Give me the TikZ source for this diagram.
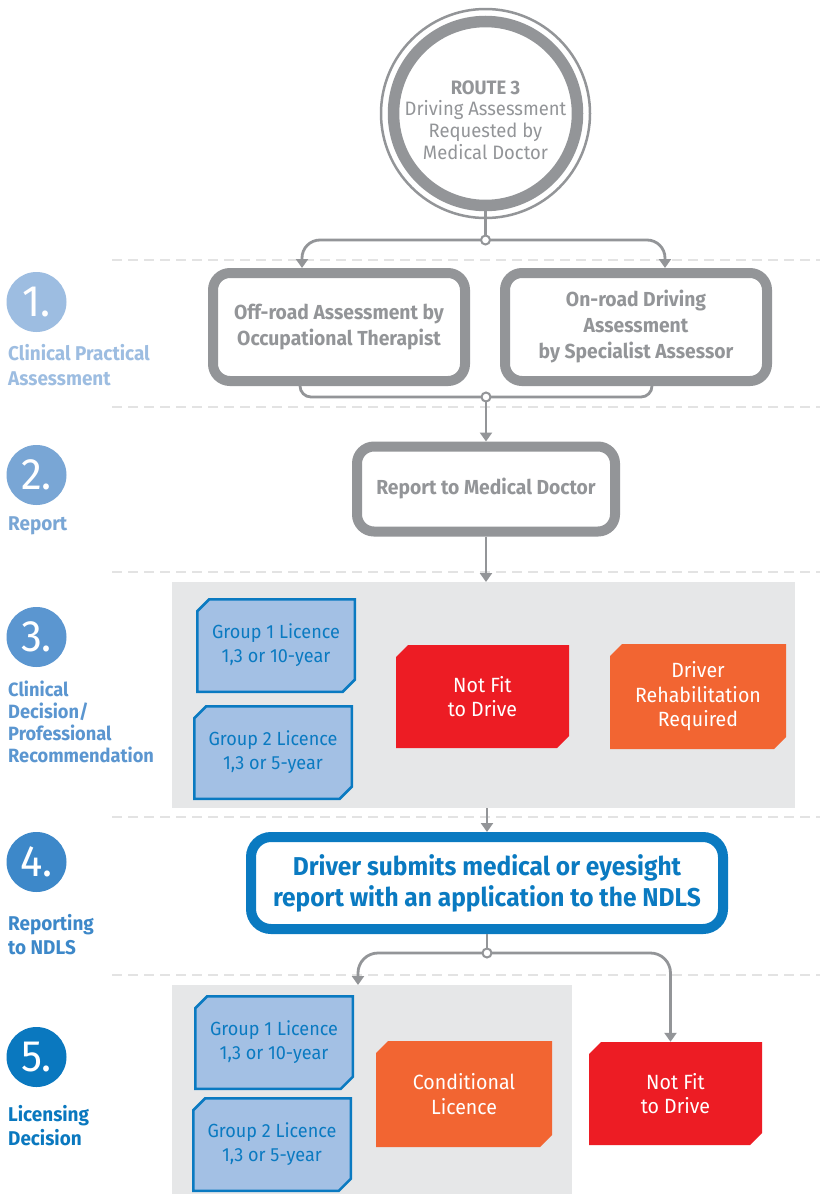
\documentclass[tikz,border=0pt]{standalone}
\usepackage{fontspec}
\setmainfont{Fira Sans}
\newfontfamily\cond{Fira Sans}[FakeStretch=0.95]
\usetikzlibrary{arrows.meta,shapes.misc,calc}
\definecolor{gr}{HTML}{939598}
\definecolor{pan}{HTML}{E6E7E8}
\definecolor{lb}{HTML}{A3C0E4}
\definecolor{bl}{HTML}{0A7AC1}
\definecolor{rd}{HTML}{ED1C24}
\definecolor{og}{HTML}{F26532}
\definecolor{dl}{HTML}{E3E3E3}
\definecolor{cA}{HTML}{9DBDE1}
\definecolor{cB}{HTML}{79A6D5}
\definecolor{cC}{HTML}{5B96D0}
\definecolor{cD}{HTML}{3D88C9}
\definecolor{cE}{HTML}{0A78BF}
\tikzset{
  graybox/.style={draw=gr, line width=10pt, rounded corners=17pt, fill=white, align=center, text=gr,
    font={\cond\bfseries\fontsize{20.3}{26}\selectfont}, inner sep=0pt},
  cutbox/.style={chamfered rectangle, chamfered rectangle corners={north west,south east},
    chamfered rectangle sep=6pt, inner sep=0pt, align=center},
  bluebox/.style={cutbox, draw=bl, line width=2.5pt, fill=lb, text=bl,
    minimum width=157.5pt, minimum height=92.5pt, font={\cond\fontsize{19}{24}\selectfont}},
  redbox/.style={cutbox, fill=rd, text=white, font={\cond\fontsize{20.6}{24.5}\selectfont}},
  orbox/.style={cutbox, fill=og, text=white, font={\cond\fontsize{20.6}{24.5}\selectfont}},
  panel/.style={fill=pan, inner sep=0pt, outer sep=0pt},
  stepnum/.style={circle, inner sep=0pt, minimum size=60pt, text=white, font={\cond\fontsize{44}{44}\selectfont}},
  steplabel/.style={anchor=west, align=left, inner sep=0pt, font={\cond\bfseries\fontsize{19.9}{23}\selectfont}},
  ln/.style={draw=gr, line width=2.8pt},
  arr/.style={ln, -{Triangle[width=12pt,length=9pt]}},
  junc/.style={circle, draw=gr, line width=2pt, fill=white, inner sep=0pt, minimum size=9pt},
  dashline/.style={draw=dl, line width=2pt, dash pattern=on 10pt off 6pt}
}
\begin{document}
\begin{tikzpicture}[x=1pt,y=-1pt]
\useasboundingbox (0,0) rectangle (820,1194);
\fill[white] (0,0) rectangle (820,1194);
% dashed separators
\foreach \yy in {260,407,572,817,975} \draw[dashline] (112,\yy) -- (820,\yy);
% panels
\node[panel, minimum width=623pt, minimum height=226pt] (p3) at (483.5,695) {};
\node[panel, minimum width=400pt, minimum height=215pt] (p5) at (372,1092.5) {};
% route circle
\node[circle, draw=gr, line width=11.5pt, fill=white, minimum size=184pt, inner sep=0pt] (route) at (485.5,113.5) {};
\draw[gr, line width=2.5pt] (route.center) circle[radius=104.5];
\node[align=center, text=gr, font={\cond\fontsize{19.4}{21.8}\selectfont}] (routetext) at (485.5,120)
  {{\bfseries ROUTE 3}\\Driving Assessment\\Requested by\\Medical Doctor};
% gray boxes
\node[graybox, minimum width=252pt, minimum height=108pt] (off) at (339,327) {Off-road Assessment by\\Occupational Therapist};
\node[graybox, minimum width=262pt, minimum height=108pt] (on) at (636,327) {On-road Driving\\Assessment\\by Specialist Assessor};
\node[graybox, minimum width=258pt, minimum height=85pt] (report) at (486,489) {Report to Medical Doctor};
% step 3 boxes
\node[bluebox] (g1a) at (276,645.5) {Group 1 Licence\\1,3 or 10-year};
\node[bluebox] (g2a) at (273,752.5) {Group 2 Licence\\1,3 or 5-year};
\node[redbox, minimum width=173pt, minimum height=103pt] (nf1) at (482.5,696.5) {Not Fit\\to Drive};
\node[orbox, minimum width=176pt, minimum height=105pt] (rehab) at (698,696.5) {Driver\\Rehabilitation\\Required};
% NDLS
\node[draw=bl, line width=10pt, rounded corners=20pt, fill=white, align=center, text=bl, inner sep=0pt,
  minimum width=472pt, minimum height=92pt, font={\cond\bfseries\fontsize{25.8}{31}\selectfont}] (ndls) at (487,883)
  {Driver submits medical or eyesight\\report with an application to the NDLS};
% step 5 boxes
\node[bluebox] (g1b) at (274,1042.5) {Group 1 Licence\\1,3 or 10-year};
\node[bluebox] (g2b) at (272,1144.5) {Group 2 Licence\\1,3 or 5-year};
\node[orbox, minimum width=176pt, minimum height=106pt] (cond) at (464,1094) {Conditional\\Licence};
\node[redbox, minimum width=173pt, minimum height=103pt] (nf2) at (675.5,1093.5) {Not Fit\\to Drive};
% step markers
\node[stepnum, fill=cA] (s1) at (36.5,302) {1.};
\node[stepnum, fill=cB] (s2) at (36.5,475) {2.};
\node[stepnum, fill=cC] (s3) at (36.5,637) {3.};
\node[stepnum, fill=cD] (s4) at (36.5,862) {4.};
\node[stepnum, fill=cE] (s5) at (36.5,1057) {5.};
\node[steplabel, text=cA, font={\cond\bfseries\fontsize{19.9}{25}\selectfont}] (l1) at (8,365) {Clinical Practical\\Assessment};
\node[steplabel, text=cB] (l2) at (8,526) {Report};
\node[steplabel, text=cC, font={\cond\bfseries\fontsize{19.2}{22}\selectfont}] (l3) at (8,722) {Clinical\\Decision/\\Professional\\Recommendation};
\node[steplabel, text=cD, font={\cond\bfseries\fontsize{19.9}{24}\selectfont}] (l4) at (8,935) {Reporting\\to NDLS};
\node[steplabel, text=cE, font={\cond\bfseries\fontsize{19.9}{24}\selectfont}] (l5) at (8,1126) {Licensing\\Decision};
% connectors
\coordinate (j1) at (485.5,240);
\coordinate (j2) at (486,397);
\coordinate (j3) at (487,953);
\coordinate (t5) at (358,985);
\draw[ln] (route.south) -- (j1);
\draw[arr, rounded corners=18pt] (j1) -| ($(off.north)+(-37,0)$);
\draw[arr, rounded corners=18pt] (j1) -| ($(on.north)+(29,0)$);
\draw[ln, rounded corners=11pt] ($(off.south)+(-39,0)$) |- (j2);
\draw[ln, rounded corners=11pt] ($(on.south)+(16,0)$) |- (j2);
\draw[arr] (j2) -- (report.north);
\draw[arr] (report.south) -- (report.south |- p3.north);
\draw[arr] (ndls.north |- p3.south) -- (ndls.north);
\draw[ln] (ndls.south) -- (j3);
\draw[arr, rounded corners=20pt] (j3) -| (t5);
\draw[arr, rounded corners=20pt] (j3) -| ($(nf2.north)+(-5,0)$);
\node[junc] (J1) at (j1) {};
\node[junc] (J2) at (j2) {};
\node[junc] (J3) at (j3) {};
\end{tikzpicture}
\end{document}
